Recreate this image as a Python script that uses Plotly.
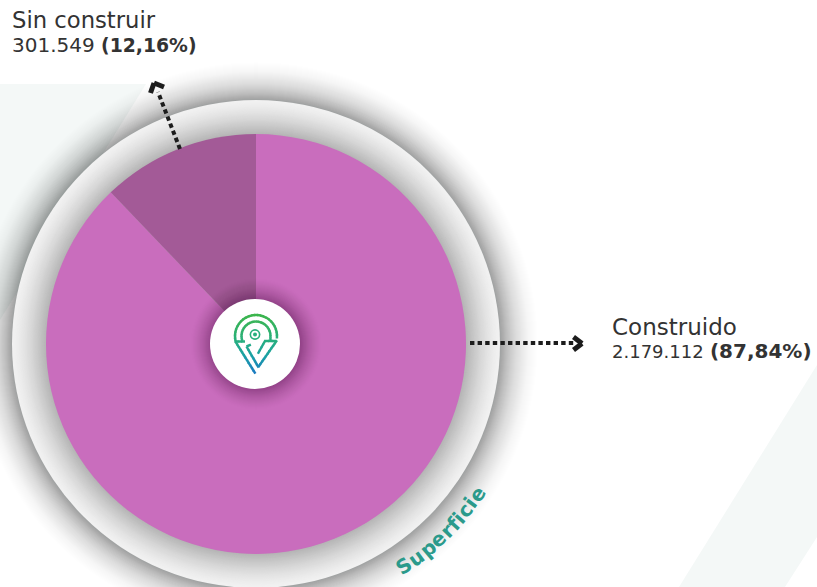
import math
import plotly.graph_objects as go

W, H = 817, 587
# Data
categories = ["Construido", "Sin construir"]
values = [2179112, 301549]
value_labels = ["2.179.112", "301.549"]
percent_labels = ["(87,84%)", "(12,16%)"]
slice_colors = ["#c96dbd", "#a35a97"]
ring_title = "Superficie"

CX, CY, R_PIE, R_RING, R_HOLE = 256, 344, 210, 244, 45
FONT = "DejaVu Sans"
INK = "#333333"


def px(x):
    return x / W


def py(y):
    return 1 - y / H


shapes = []


def circle(r, color, layer="below", cx=CX, cy=CY):
    shapes.append(dict(type="circle", xref="paper", yref="paper", layer=layer,
                       x0=px(cx - r), x1=px(cx + r), y0=py(cy + r), y1=py(cy - r),
                       fillcolor=color, line=dict(width=0)))


def line(x0, y0, x1, y1, color, width, dash="solid", layer="above"):
    shapes.append(dict(type="line", xref="paper", yref="paper", layer=layer,
                       x0=px(x0), x1=px(x1), y0=py(y0), y1=py(y1),
                       line=dict(color=color, width=width, dash=dash)))


def polygon(points, color, layer="below"):
    path = "M " + " L ".join(f"{px(x):.5f},{py(y):.5f}" for x, y in points) + " Z"
    shapes.append(dict(type="path", xref="paper", yref="paper", layer=layer, path=path,
                       fillcolor=color, line=dict(width=0)))


def fade(r_from, r_to, peak, power, rgb, layer):
    """Stacked translucent discs that build up a soft radial shadow."""
    prev = 0.0
    span = r_from - r_to
    for i in range(1, span + 1):
        t = peak * (i / span) ** power
        a = 1 - (1 - t) / (1 - prev)
        prev = t
        circle(r_from - i, f"rgba({rgb},{a:.4f})", layer)


# Pale background bands
polygon([(0, 84), (146, 84), (0, 320)], "#f4f8f7")
polygon([(817, 365), (817, 537), (785, 587), (679, 587)], "#f4f8f7")

# Shadow around the ring, then the ring itself
fade(R_RING + 46, R_RING, 0.42, 2.3, "45,50,50", "below")
span = R_RING - R_PIE
for i in range(span + 1):
    t = (i / span) ** 1.4
    v = round(241 - t * 62)
    circle(R_RING - i, f"rgb({v},{v},{v})")

# Soft shadow and white hub on top of the pie
fade(R_HOLE + 24, R_HOLE, 0.32, 2.0, "60,15,60", "above")
circle(R_HOLE, "#ffffff", "above", cx=255, cy=344)


# Logo
def logo_color(y):
    stops = [(314, (60, 181, 74)), (340, (40, 175, 125)), (356, (25, 160, 165)), (374, (27, 120, 195))]
    for (y0, c0), (y1, c1) in zip(stops, stops[1:]):
        if y <= y1:
            t = max(0, (y - y0) / (y1 - y0))
            return "rgb(" + ",".join(str(round(a + (b - a) * t)) for a, b in zip(c0, c1)) + ")"
    return "rgb(27,120,195)"


def stroke(points, width=2.5):
    for (x0, y0), (x1, y1) in zip(points, points[1:]):
        n = max(1, int(math.hypot(x1 - x0, y1 - y0) / 3))
        for k in range(n):
            a, b = k / n, (k + 1.25) / n
            xa, ya = x0 + (x1 - x0) * a, y0 + (y1 - y0) * a
            xb, yb = x0 + (x1 - x0) * b, y0 + (y1 - y0) * b
            line(xa, ya, xb, yb, logo_color((ya + yb) / 2), width)


def arc(cx, cy, r, a0, a1, n=24):
    return [(cx + r * math.cos(math.radians(a0 + (a1 - a0) * i / n)),
             cy + r * math.sin(math.radians(a0 + (a1 - a0) * i / n))) for i in range(n + 1)]


stroke([(245, 341.5), (235.3, 341.5)] + arc(256, 336, 21, 165, 365))
stroke([(242, 341)] + arc(256, 336, 14.5, 160, 365) + [(270.5, 341)])
stroke([(235.5, 341.7), (255, 373)])
stroke([(246.5, 346.5), (258.3, 367), (276.5, 341), (265, 341), (258.3, 353)])
stroke([(246.5, 346.5), (250, 345)])
circle(5.4, "rgb(40,175,125)", "above", cx=255, cy=334.5)
circle(3.8, "#ffffff", "above", cx=255, cy=334.5)
circle(2.0, "rgb(40,175,125)", "above", cx=255, cy=334.5)

# Dotted leaders with chevron heads
ARROW = "#1c1c1c"
line(470, 343, 576, 343, ARROW, 4, "4.4px,3.2px")
line(573.5, 337, 582, 343.5, ARROW, 5)
line(582, 343.5, 573.5, 350, ARROW, 5)
line(180, 149, 158, 92, ARROW, 4, "4.4px,3.2px")
line(150.5, 93, 154, 83, ARROW, 5)
line(154, 83, 164, 87, ARROW, 5)

annotations = []


def label(x, y, text, size=19, color=INK, anchor="left", angle=0, family=FONT):
    annotations.append(dict(xref="paper", yref="paper", x=px(x), y=py(y), text=text,
                            showarrow=False, xanchor=anchor, yanchor="middle", textangle=angle,
                            font=dict(family=family, size=size, color=color)))


def value_line(value, percent, value_size, percent_size):
    return (f'<span style="font-size:{value_size}px">{value}</span> '
            f'<span style="font-size:{percent_size}px"><b>{percent}</b></span>')


label(10, 20.5, categories[1], size=22.7)
label(10, 44.5, value_line(value_labels[1], percent_labels[1], 20, 18.8), size=20)
label(610, 327, categories[0], size=23)
label(610, 351, value_line(value_labels[0], percent_labels[0], 18, 20), size=20)

# Curved ring title, letter by letter
advance = [15.1, 15, 15, 14.2, 10.4, 9.1, 7.2, 12.5, 7.2, 14.2]
total = sum(advance)
R_TEXT = 267
start_deg, end_deg = 58, 32.6
pos = 0
for ch, adv in zip(ring_title, advance):
    deg = start_deg + (end_deg - start_deg) * (pos + adv / 2) / total
    pos += adv
    x = CX + R_TEXT * math.cos(math.radians(deg))
    y = CY + R_TEXT * math.sin(math.radians(deg))
    annotations.append(dict(xref="paper", yref="paper", x=px(x), y=py(y), text=f"<b>{ch}</b>",
                            showarrow=False, xanchor="center", yanchor="middle",
                            textangle=-(90 - deg),
                            font=dict(family=FONT, size=20, color="#2b9a8b")))

fig = go.Figure(go.Pie(
    labels=categories, values=values, sort=False, direction="clockwise", rotation=0,
    marker=dict(colors=slice_colors, line=dict(width=0)),
    textinfo="none", hoverinfo="skip", showlegend=False,
    domain=dict(x=[px(CX - R_PIE), px(CX + R_PIE)], y=[py(CY + R_PIE), py(CY - R_PIE)]),
))
fig.update_layout(width=W, height=H, margin=dict(l=0, r=0, t=0, b=0),
                  paper_bgcolor="#ffffff", shapes=shapes, annotations=annotations)
fig.write_html("out.html", config=dict(displayModeBar=False),
               post_script="document.body.style.margin='0';document.body.style.overflow='hidden';")
